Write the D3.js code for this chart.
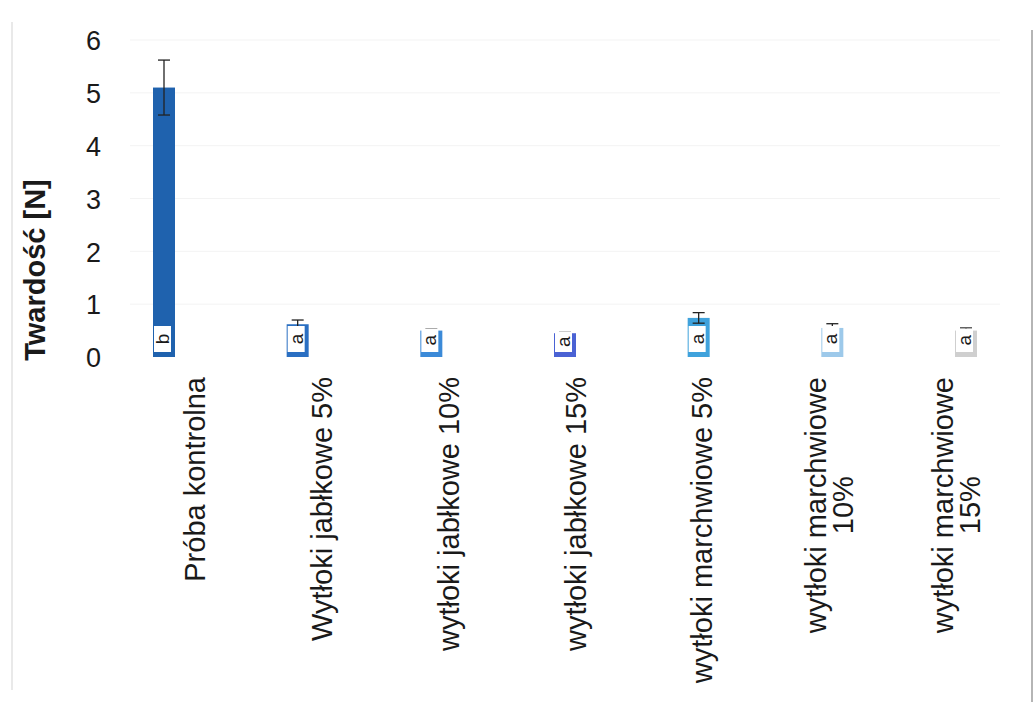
<!DOCTYPE html>
<html>
<head>
<meta charset="utf-8">
<script src="https://cdn.jsdelivr.net/npm/d3@7"></script>
<style>
  html, body { margin: 0; padding: 0; background: #ffffff; }
  svg { display: block; }
</style>
</head>
<body>
<svg id="chart" width="1036" height="702"></svg>
<script>
// ---- data ----
const categories = [
  ["Próba kontrolna"],
  ["Wytłoki jabłkowe 5%"],
  ["wytłoki jabłkowe 10%"],
  ["wytłoki jabłkowe 15%"],
  ["wytłoki marchwiowe 5%"],
  ["wytłoki marchwiowe", "10%"],
  ["wytłoki marchwiowe", "15%"]
];
const values = [5.1, 0.62, 0.5, 0.45, 0.74, 0.55, 0.5];
const errors = [0.52, 0.08, 0.03, 0.03, 0.1, 0.08, 0.05];
const groupLabels = ["b", "a", "a", "a", "a", "a", "a"];
const yTicks = [0, 1, 2, 3, 4, 5, 6];
const yTitle = "Twardość [N]";
const barColors = ["#1f62ae", "#2a6fc2", "#3b8ad8", "#4a62d4", "#3fa2dc", "#9dc9ea", "#cfcfcf"];

// ---- layout ----
const svg = d3.select("#chart");
const FONT = "Liberation Sans, Arial, sans-serif";

const idx = categories.map((d, i) => i);
const y = d3.scaleLinear().domain([0, 6]).range([357, 40]);
const xBar = d3.scalePoint().domain(idx).range([164, 966]);
const xLab = d3.scalePoint().domain(idx).range([195, 956]);
const color = d3.scaleOrdinal().domain(idx).range(barColors);

// page edges of the scan
svg.append("line").attr("x1", 12).attr("x2", 12).attr("y1", 22).attr("y2", 690)
  .attr("stroke", "#e2e2e2").attr("stroke-width", 1.5);
svg.append("line").attr("x1", 1032).attr("x2", 1032).attr("y1", 30).attr("y2", 702)
  .attr("stroke", "#b5b5b5").attr("stroke-width", 2);

// faint gridlines
svg.append("g").selectAll("line").data(yTicks.filter(t => t > 0)).join("line")
  .attr("x1", 130).attr("x2", 1000)
  .attr("y1", d => y(d)).attr("y2", d => y(d))
  .attr("stroke", "#f3f3f3").attr("stroke-width", 1);

// y axis (labels only)
const yAxis = d3.axisLeft(y).tickValues(yTicks).tickSize(0).tickPadding(0).tickFormat(d3.format("d"));
const gy = svg.append("g").attr("transform", "translate(101,0)").call(yAxis);
gy.select(".domain").remove();
gy.selectAll("text").attr("font-family", FONT).attr("font-size", 27).attr("fill", "#1a1a1a")
  .attr("dy", "0.36em");

// y title
svg.append("text")
  .attr("transform", `translate(45,${270}) rotate(-90)`)
  .attr("text-anchor", "middle")
  .attr("font-family", FONT).attr("font-weight", "bold").attr("font-size", 29)
  .attr("fill", "#1a1a1a")
  .text(yTitle);

// bars
const bw = 22;
svg.append("g").selectAll("rect").data(idx).join("rect")
  .attr("x", i => xBar(i) - bw / 2)
  .attr("width", bw)
  .attr("y", i => y(values[i]))
  .attr("height", i => y(0) - y(values[i]))
  .attr("fill", i => color(i));

// error bars (drawn below the label boxes)
const eg = svg.append("g").attr("stroke", "#222").attr("stroke-width", 1.3);
idx.forEach(i => {
  const cx = xBar(i);
  const hi = y(values[i] + errors[i]), lo = y(values[i] - errors[i]);
  eg.append("line").attr("x1", cx).attr("x2", cx).attr("y1", hi).attr("y2", lo);
  eg.append("line").attr("x1", cx - 6).attr("x2", cx + 6).attr("y1", hi).attr("y2", hi);
  eg.append("line").attr("x1", cx - 6).attr("x2", cx + 6).attr("y1", lo).attr("y2", lo);
});

// label boxes
const boxW = 17, boxH = 26;
const lg = svg.append("g");
idx.forEach(i => {
  const x0 = xBar(i) - bw / 2 + 1;
  const yb = y(0) - 5;
  const top = Math.max(yb - boxH, y(values[i]) - 2);
  lg.append("rect").attr("x", x0).attr("y", top).attr("width", boxW).attr("height", yb - top)
    .attr("fill", "#ffffff");
  lg.append("text")
    .attr("transform", `translate(${x0 + boxW / 2},${(top + yb) / 2}) rotate(-90)`)
    .attr("text-anchor", "middle").attr("dy", "0.35em")
    .attr("font-family", FONT).attr("font-size", 19).attr("fill", "#1a1a1a")
    .text(groupLabels[i]);
});

// category labels (rotated, top-aligned, lines centred)
const cg = svg.append("g");
const labTop = 377, lineGap = 27;
idx.forEach(i => {
  const lines = categories[i];
  const g = cg.append("g");
  const texts = lines.map((t, k) => g.append("text")
    .attr("font-family", FONT).attr("font-size", 29).attr("fill", "#1a1a1a")
    .attr("text-anchor", "middle").text(t));
  const maxLen = d3.max(texts, t => t.node().getComputedTextLength());
  const n = lines.length;
  texts.forEach((t, k) => {
    const cx = xLab(i) + (k - (n - 1) / 2) * lineGap;
    t.attr("transform", `translate(${cx},${labTop + maxLen / 2}) rotate(-90)`).attr("dy", "0.35em");
  });
});
</script>
</body>
</html>
